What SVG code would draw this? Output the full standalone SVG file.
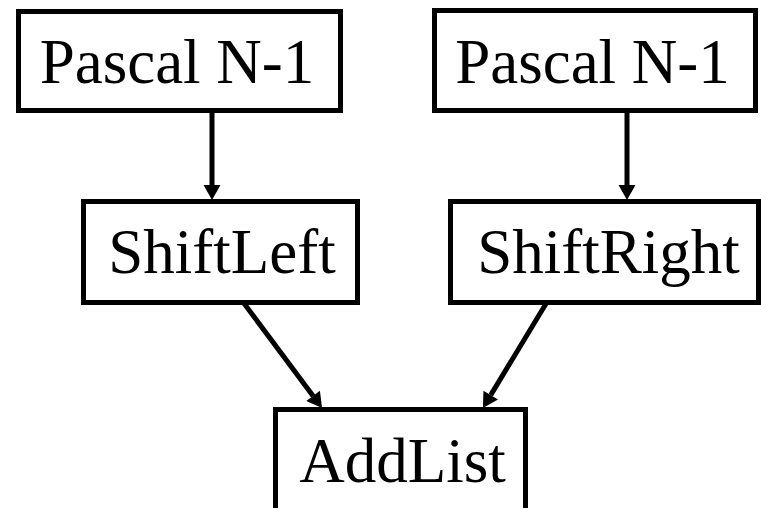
<svg xmlns="http://www.w3.org/2000/svg" width="761" height="508" viewBox="0 0 761 508">
<style>
.box{fill:#fff;stroke:#000;stroke-width:5}
.lbl{font-family:"Liberation Serif","Times New Roman",serif;font-size:63px;fill:#000;text-anchor:middle}
.edge{stroke:#000;stroke-width:5;fill:none}
</style>
<defs>
<marker id="ah" markerUnits="userSpaceOnUse" markerWidth="16" markerHeight="18" viewBox="0 -9 16 18" refX="0" refY="0" orient="auto" overflow="visible">
<path d="M0,-8.5 L15,0 L0,8.5 z" fill="#000"/>
</marker>
</defs>
<rect width="761" height="508" fill="#fff"/>
<g id="connectors">
<line class="edge" x1="212" y1="112" x2="212" y2="185" marker-end="url(#ah)"/>
<line class="edge" x1="627" y1="112" x2="627" y2="185" marker-end="url(#ah)"/>
<line class="edge" x1="243" y1="302" x2="313.1" y2="395.9" marker-end="url(#ah)"/>
<line class="edge" x1="547" y1="302" x2="490.7" y2="395.1" marker-end="url(#ah)"/>
</g>
<g id="pascal1">
<rect class="box" x="18.5" y="11.5" width="322" height="99"/>
<text class="lbl" x="177" y="83">Pascal N-1</text>
</g>
<g id="pascal2">
<rect class="box" x="434.5" y="10.5" width="321" height="100"/>
<text class="lbl" x="592.5" y="83">Pascal N-1</text>
</g>
<g id="shiftleft">
<rect class="box" x="83.5" y="201.5" width="274" height="101"/>
<text class="lbl" x="222" y="273">ShiftLeft</text>
</g>
<g id="shiftright">
<rect class="box" x="450.5" y="201.5" width="308" height="101"/>
<text class="lbl" x="608.5" y="273">ShiftRight</text>
</g>
<g id="addlist">
<rect class="box" x="275.5" y="409.5" width="250" height="120"/>
<text class="lbl" x="402.5" y="482">AddList</text>
</g>
</svg>
